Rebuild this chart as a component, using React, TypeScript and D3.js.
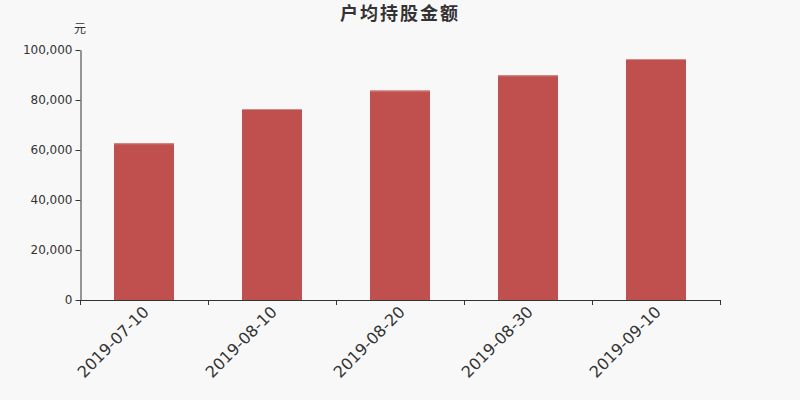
import { useEffect, useRef } from "react";
import * as d3 from "d3";

const categories = ["2019-07-10", "2019-08-10", "2019-08-20", "2019-08-30", "2019-09-10"];
const values = [62700, 76400, 83800, 89900, 96400];
const yTicks = [0, 20000, 40000, 60000, 80000, 100000];

const width = 800;
const height = 400;
const marginTop = 50;
const marginBottom = 100;
const marginLeft = 80;
const marginRight = 80;
const font = "'DejaVu Sans', 'Noto Sans CJK SC', sans-serif";

const App = () => {
    const refX = useRef<SVGGElement>(null);
    const refY = useRef<SVGGElement>(null);

    const xScale = d3
        .scaleBand()
        .domain(categories)
        .range([marginLeft, width - marginRight])
        .paddingInner(0.53125)
        .paddingOuter(0.265625);

    const yScale = d3
        .scaleLinear()
        .domain([0, 100000])
        .range([height - marginBottom, marginTop]);

    // band edges for the category ticks
    const step = (width - marginLeft - marginRight) / categories.length;

    useEffect(() => {
        const yAxis = d3
            .axisLeft(yScale)
            .tickValues(yTicks)
            .tickSize(5)
            .tickSizeOuter(0)
            .tickPadding(3)
            .tickFormat((d) => d3.format(",")(d as number));
        const gy = d3.select(refY.current!).call(yAxis);
        gy.select(".domain").attr("stroke", "#333");
        gy.selectAll(".tick line").attr("stroke", "#333");
        gy.selectAll("text")
            .attr("fill", "#333")
            .style("font-size", "12px")
            .style("font-family", font);

        const gx = d3.select(refX.current!);
        gx.selectAll("*").remove();
        gx.append("line")
            .attr("x1", marginLeft)
            .attr("x2", width - marginRight)
            .attr("y1", 0.5)
            .attr("y2", 0.5)
            .attr("stroke", "#333");
        d3.range(categories.length + 1).forEach((i) => {
            const x = Math.round(marginLeft + i * step) + 0.5;
            gx.append("line")
                .attr("x1", x)
                .attr("x2", x)
                .attr("y1", 0)
                .attr("y2", 5)
                .attr("stroke", "#333");
        });
        gx.selectAll("text.lbl")
            .data(categories)
            .join("text")
            .attr("class", "lbl")
            .attr("transform", (d) => `translate(${xScale(d)! + xScale.bandwidth() / 2 + 2},${9}) rotate(-45)`)
            .attr("text-anchor", "end")
            .attr("dy", "0.35em")
            .attr("fill", "#333")
            .style("font-size", "16px")
            .style("font-family", font)
            .text((d) => d);
    }, []);

    return (
        <svg
            width={width}
            height={height}
            viewBox={`0 0 ${width} ${height}`}
            style={{ position: "absolute", left: 0, top: 0, background: "#f8f8f8" }}
        >
            <rect width={width} height={height} fill="#f8f8f8" />
            <text
                x={width / 2}
                y={20}
                textAnchor="middle"
                fontSize={18}
                fontWeight="bold"
                letterSpacing={2}
                fill="#333"
                fontFamily={font}
            >
                户均持股金额
            </text>
            <text x={80} y={33} textAnchor="middle" fontSize={12} fill="#333" fontFamily={font}>
                元
            </text>
            <g className="bars">
                {values.map((v, i) => (
                    <g key={i}>
                        <rect
                            x={xScale(categories[i])}
                            y={yScale(v)}
                            width={xScale.bandwidth()}
                            height={yScale(0) - yScale(v)}
                            fill="#c0504e"
                        />
                        <rect
                            x={xScale(categories[i])}
                            y={yScale(v)}
                            width={xScale.bandwidth()}
                            height={1}
                            fill="#d48a88"
                        />
                    </g>
                ))}
            </g>
            <g ref={refY} transform={`translate(${marginLeft + 0.5},0)`}></g>
            <g ref={refX} transform={`translate(0,${height - marginBottom})`}></g>
        </svg>
    );
};

export default App;
